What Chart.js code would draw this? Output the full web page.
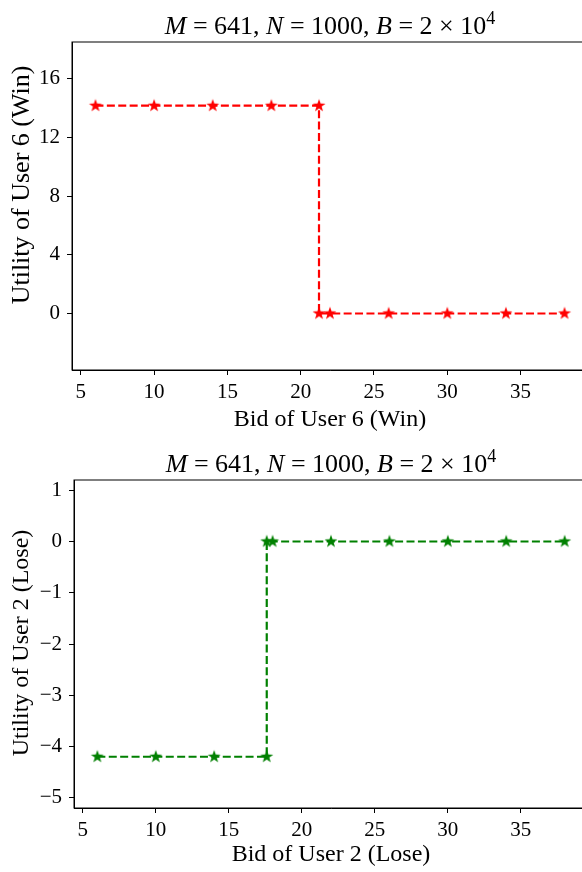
<!DOCTYPE html>
<html>
<head>
<meta charset="utf-8">
<script src="https://cdn.jsdelivr.net/npm/chart.js@4.4.1/dist/chart.umd.min.js"></script>
<style>
  html, body { margin: 0; padding: 0; background: #fff; overflow: hidden; }
  canvas { position: absolute; left: 0; }
  #winChart { top: 0; }
  #loseChart { top: 438px; }
</style>
</head>
<body>
<canvas id="winChart" width="600" height="438"></canvas>
<canvas id="loseChart" width="600" height="438"></canvas>
<script>
// data
const winBids = [6, 10, 14, 18, 21.25, 21.25, 22, 26, 30, 34, 38];
const winUtility = [14.16, 14.16, 14.16, 14.16, 14.16, 0, 0, 0, 0, 0, 0];
const loseBids = [6, 10, 14, 17.6, 17.6, 18, 22, 26, 30, 34, 38];
const loseUtility = [-4.2, -4.2, -4.2, -4.2, 0, 0, 0, 0, 0, 0, 0];

const xTicks = [5, 10, 15, 20, 25, 30, 35];
const winYTicks = [0, 4, 8, 12, 16];
const loseYTicks = [-5, -4, -3, -2, -1, 0, 1];

// title pieces: i = italic, r = roman, s = superscript
const titleParts = [
    ['M', 'i'], [' = 641, ', 'r'], ['N', 'i'], [' = 1000, ', 'r'],
    ['B', 'i'], [' = 2 \u00d7 10', 'r'], ['4', 's']
];

const SERIF = "'Liberation Serif', 'Times New Roman', serif";

function starImage(color) {
    const c = document.createElement('canvas');
    c.width = 16;
    c.height = 16;
    const g = c.getContext('2d');
    g.beginPath();
    for (let i = 0; i < 10; i++) {
        const r = i % 2 ? 2.7 : 6.8;
        const a = -Math.PI / 2 + i * Math.PI / 5;
        g.lineTo(8 + r * Math.cos(a), 8 + r * Math.sin(a));
    }
    g.closePath();
    g.fillStyle = color;
    g.fill();
    return c;
}

// box around the plot area (matplotlib spines)
const framePlugin = {
    id: 'frame',
    afterDraw(chart) {
        const { ctx, chartArea: a } = chart;
        ctx.save();
        ctx.strokeStyle = '#000';
        ctx.lineWidth = 1;
        ctx.strokeRect(a.left, a.top, a.right - a.left, a.bottom - a.top);
        ctx.restore();
    }
};

// title with italic symbols, centred over the plot area
const mathTitlePlugin = {
    id: 'mathTitle',
    afterDraw(chart) {
        const { ctx, chartArea: a } = chart;
        const fontFor = kind => kind === 'i' ? `italic 26px ${SERIF}` :
            kind === 's' ? `18px ${SERIF}` : `26px ${SERIF}`;
        ctx.save();
        ctx.fillStyle = '#000';
        ctx.textBaseline = 'alphabetic';
        let total = 0;
        const widths = titleParts.map(([t, k]) => {
            ctx.font = fontFor(k);
            const w = ctx.measureText(t).width;
            total += w;
            return w;
        });
        let x = (a.left + a.right) / 2 - total / 2;
        const base = a.top - 8;
        titleParts.forEach(([t, k], i) => {
            ctx.font = fontFor(k);
            ctx.fillText(t, x, k === 's' ? base - 10 : base);
            x += widths[i];
        });
        ctx.restore();
    }
};

// rotated y label, placed like the reference
const yLabelPlugin = {
    id: 'yLabel',
    afterDraw(chart, args, opts) {
        const { ctx, chartArea: a } = chart;
        ctx.save();
        ctx.fillStyle = '#000';
        ctx.font = `${opts.size}px ${SERIF}`;
        ctx.textAlign = 'center';
        ctx.textBaseline = 'middle';
        ctx.translate(opts.x, (a.top + a.bottom) / 2 + opts.shift);
        ctx.rotate(-Math.PI / 2);
        ctx.fillText(opts.text, 0, 0);
        ctx.restore();
    }
};

function minus(v) {
    return String(v).replace('-', '\u2212');
}

function makeChart(id, bids, utility, color, yTicks, yMin, yMax, xLabel, yLabel, yAxisWidth, xTitlePad) {
    return new Chart(document.getElementById(id), {
        type: 'line',
        data: {
            datasets: [{
                data: bids.map((b, i) => ({ x: b, y: utility[i] })),
                borderColor: color,
                backgroundColor: color,
                borderWidth: 2.2,
                borderDash: [8, 3.4],
                tension: 0,
                fill: false,
                pointStyle: starImage(color),
                pointRadius: 7,
                pointHoverRadius: 7
            }]
        },
        options: {
            responsive: false,
            animation: false,
            layout: { padding: { top: 42, right: 12, left: 0, bottom: 0 } },
            plugins: {
                legend: { display: false },
                tooltip: { enabled: false },
                title: { display: false },
                yLabel: yLabel
            },
            scales: {
                x: {
                    type: 'linear',
                    min: 4.4,
                    max: 39.6,
                    afterBuildTicks: s => { s.ticks = xTicks.map(v => ({ value: v })); },
                    afterFit: s => { s.height = 68; },
                    grid: { drawOnChartArea: false, drawTicks: true, tickLength: 5, tickColor: '#000' },
                    border: { display: true, color: '#000' },
                    ticks: { color: '#000', padding: 5, font: { family: SERIF, size: 21 }, maxRotation: 0 },
                    title: {
                        display: true, text: xLabel, color: '#000',
                        font: { family: SERIF, size: 24 },
                        padding: { top: 0, bottom: xTitlePad }
                    }
                },
                y: {
                    min: yMin,
                    max: yMax,
                    afterBuildTicks: s => { s.ticks = yTicks.map(v => ({ value: v })); },
                    afterFit: s => { s.width = yAxisWidth; },
                    grid: { drawOnChartArea: false, drawTicks: true, tickLength: 5, tickColor: '#000' },
                    border: { display: true, color: '#000' },
                    ticks: { color: '#000', padding: 7, font: { family: SERIF, size: 21 }, callback: minus },
                    title: { display: false }
                }
            }
        },
        plugins: [framePlugin, mathTitlePlugin, yLabelPlugin]
    });
}

makeChart('winChart', winBids, winUtility, '#ff0000', winYTicks, -3.85, 18.5,
    'Bid of User 6 (Win)', { text: 'Utility of User 6 (Win)', size: 26, x: 22, shift: -21 }, 72, 3.5);
makeChart('loseChart', loseBids, loseUtility, '#008000', loseYTicks, -5.2, 1.2,
    'Bid of User 2 (Lose)', { text: 'Utility of User 2 (Lose)', size: 24, x: 22, shift: -1 }, 74, 6.5);
</script>
</body>
</html>
